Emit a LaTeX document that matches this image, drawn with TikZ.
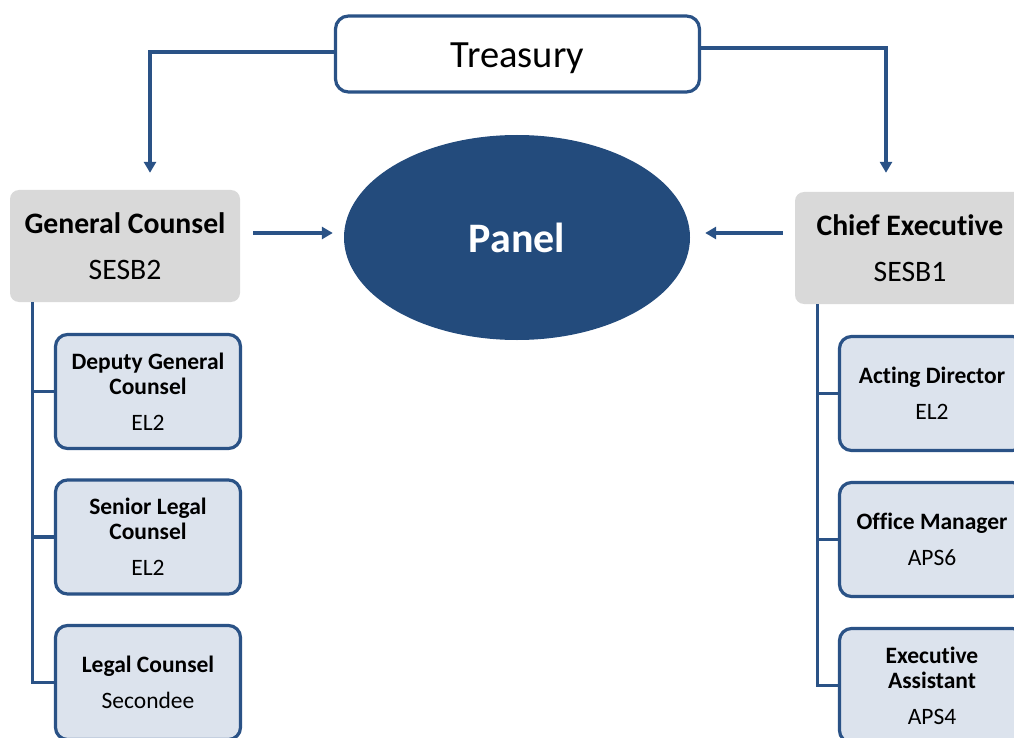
\documentclass[tikz,border=0pt]{standalone}
\usepackage{fontspec}
\setmainfont[Ligatures=NoCommon,RawFeature={-liga;-clig;-calt}]{Carlito}
\usetikzlibrary{arrows.meta,shapes.geometric}
\definecolor{navy}{HTML}{234B7C}
\definecolor{lineblue}{HTML}{2A5286}
\definecolor{boxfill}{HTML}{DCE3ED}
\definecolor{headgray}{HTML}{D9D9D9}
\begin{document}
\begin{tikzpicture}[x=1pt,y=-1pt,
  conn/.style={draw=lineblue,line width=3.2pt},
  arr/.style={conn,-{Triangle[length=11pt,width=12pt]}},
  topbox/.style={draw=lineblue,line width=3.2pt,fill=white,rounded corners=13pt,
    minimum width=364pt,minimum height=76pt,inner sep=0pt,
    font=\fontsize{38.5}{40}\selectfont},
  head/.style={fill=headgray,rounded corners=9pt,minimum width=230pt,
    minimum height=112pt,inner sep=0pt,align=center,
    font=\fontsize{29.7}{46}\selectfont},
  sub/.style={draw=lineblue,line width=3.2pt,fill=boxfill,rounded corners=12pt,
    minimum width=185pt,minimum height=114pt,inner sep=0pt,align=center,
    font=\fontsize{23.5}{25}\selectfont},
  panelshape/.style={ellipse,fill=navy,minimum width=346pt,minimum height=205pt,
    inner sep=0pt,text=white,font=\fontsize{42}{44}\selectfont\bfseries}
]
\useasboundingbox (0,0) rectangle (1014,738);
\clip (0,0) rectangle (1014,738);

\node[topbox] (tre) at (517.5,54) {\raisebox{-4pt}[\height][\depth]{Treasury}};
\node[panelshape] (panel) at (517,237.5) {Panel};
\node[head] (gc) at (125,246) {\textbf{General Counsel}\\SESB2};
\node[head] (ce) at (910,248) {\textbf{Chief Executive}\\SESB1};

\node[sub] (dgc) at (148,391.5) {\textbf{Deputy General}\\\textbf{Counsel}\\[11pt]EL2};
\node[sub] (slc) at (148,537) {\textbf{Senior Legal}\\\textbf{Counsel}\\[11pt]EL2};
\node[sub] (lc) at (148,682.5) {\textbf{Legal Counsel}\\[11pt]Secondee};

\node[sub] (ad) at (932,393.5) {\textbf{Acting Director}\\[11pt]EL2};
\node[sub] (om) at (932,539.5) {\textbf{Office Manager}\\[11pt]APS6};
\node[sub] (ea) at (932,685.5) {\textbf{Executive}\\\textbf{Assistant}\\[11pt]APS4};

% Treasury to heads
\draw[arr] ([yshift=2pt]tre.west) -| ([shift={(25,-17)}]gc.north);
\draw[arr] ([yshift=6pt]tre.east) -| ([shift={(-24,-19)}]ce.north);

% heads to panel
\draw[arr] ([shift={(13,-13)}]gc.east) -- ([shift={(-11,-4.5)}]panel.west);
\draw[arr] ([shift={(-12,-15)}]ce.west) -- ([shift={(15,-4.5)}]panel.east);

% left tree
\coordinate (lt) at ([xshift=23pt]gc.south west);
\draw[conn] (lt) |- (lc.west);
\draw[conn] (dgc.west) -- (dgc.west -| lt);
\draw[conn] (slc.west) -- (slc.west -| lt);

% right tree
\coordinate (rt) at ([xshift=23pt]ce.south west);
\draw[conn] (rt) |- (ea.west);
\draw[conn] (ad.west) -- (ad.west -| rt);
\draw[conn] (om.west) -- (om.west -| rt);
\end{tikzpicture}
\end{document}
